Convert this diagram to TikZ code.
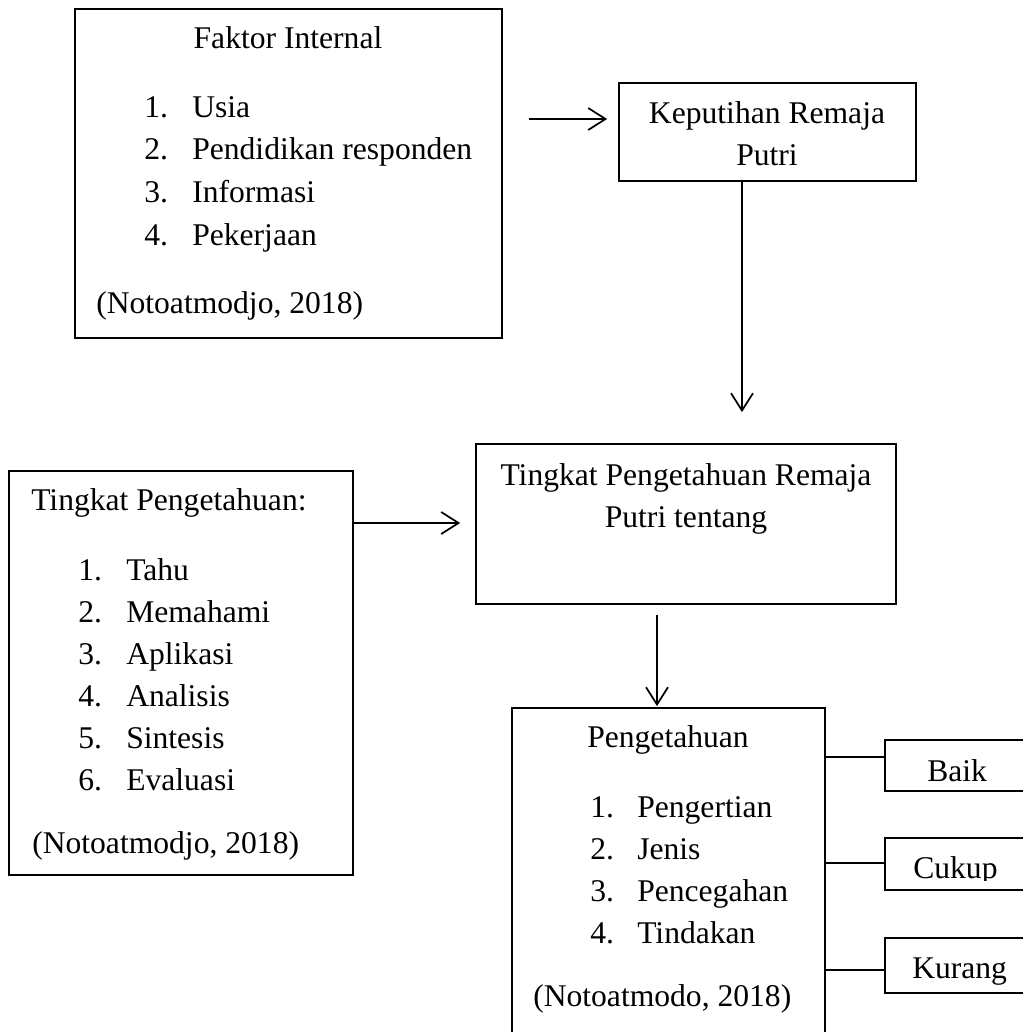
\documentclass[tikz,border=0pt]{standalone}
\usepackage{fontspec}
\setmainfont{Liberation Serif}
\usetikzlibrary{arrows.meta}
\begin{document}
\begin{tikzpicture}[x=0.75pt,y=-0.75pt,
  box/.style={draw, line width=1.3pt, rectangle, inner sep=0pt},
  txt/.style={inner sep=0pt, anchor=base west, font=\fontsize{23.7pt}{28pt}\selectfont},
  ctxt/.style={inner sep=0pt, anchor=base, font=\fontsize{23.7pt}{28pt}\selectfont},
  arr/.style={line width=1.3pt, -{Straight Barb[length=13pt,width=16.5pt,line width=1.3pt]}},
  conn/.style={line width=1.3pt}]
\useasboundingbox (0,0) rectangle (1023,1032);
\clip (0,0) rectangle (1023,1032);

% boxes
\node[box, minimum width=320.25pt, minimum height=246.75pt] (b1) at (288.5,173.5) {};
\node[box, minimum width=222.75pt, minimum height=73.5pt] (b2) at (767.5,132) {};
\node[box, minimum width=315pt, minimum height=120pt] (b3) at (686,524) {};
\node[box, minimum width=258pt, minimum height=303pt] (b4) at (181,673) {};
\node[box, minimum width=234.75pt, minimum height=264pt] (b5) at (668.5,884) {};
\node[box, minimum width=116.25pt, minimum height=38.25pt] (baik) at (962.5,765.5) {};
\node[box, minimum width=116.25pt, minimum height=39pt] (cukup) at (962.5,864) {};
\node[box, minimum width=116.25pt, minimum height=41.25pt] (kurang) at (962.5,965.5) {};

% box 1 text
\node[ctxt] (t1) at (288,48) {Faktor Internal};
\node[txt] (n11) at (144,117) {1.};  \node[txt] (i11) at (192,117) {Usia};
\node[txt] (n12) at (144,159) {2.};  \node[txt] (i12) at (192,159) {Pendidikan responden};
\node[txt] (n13) at (144,202) {3.};  \node[txt] (i13) at (192,202) {Informasi};
\node[txt] (n14) at (144,245) {4.};  \node[txt] (i14) at (192,245) {Pekerjaan};
\node[txt] (r1) at (96,313) {(Notoatmodjo, 2018)};

% box 2 text
\node[ctxt] (t2a) at (767,123) {Keputihan Remaja};
\node[ctxt] (t2b) at (767,165) {Putri};

% box 3 text
\node[ctxt] (t3a) at (686,485) {Tingkat Pengetahuan Remaja};
\node[ctxt] (t3b) at (686,527) {Putri tentang};

% box 4 text
\node[txt] (t4) at (31,510) {Tingkat Pengetahuan:};
\node[txt] (n41) at (78,580) {1.}; \node[txt] (i41) at (126,580) {Tahu};
\node[txt] (n42) at (78,622) {2.}; \node[txt] (i42) at (126,622) {Memahami};
\node[txt] (n43) at (78,664) {3.}; \node[txt] (i43) at (126,664) {Aplikasi};
\node[txt] (n44) at (78,706) {4.}; \node[txt] (i44) at (126,706) {Analisis};
\node[txt] (n45) at (78,748) {5.}; \node[txt] (i45) at (126,748) {Sintesis};
\node[txt] (n46) at (78,790) {6.}; \node[txt] (i46) at (126,790) {Evaluasi};
\node[txt] (r4) at (32,853) {(Notoatmodjo, 2018)};

% box 5 text
\node[ctxt] (t5) at (668,747) {Pengetahuan};
\node[txt] (n51) at (590,817) {1.}; \node[txt] (i51) at (637,817) {Pengertian};
\node[txt] (n52) at (590,859) {2.}; \node[txt] (i52) at (637,859) {Jenis};
\node[txt] (n53) at (590,901) {3.}; \node[txt] (i53) at (637,901) {Pencegahan};
\node[txt] (n54) at (590,943) {4.}; \node[txt] (i54) at (637,943) {Tindakan};
\node[txt] (r5) at (533,1006) {(Notoatmodo, 2018)};

% small box text
\node[txt] (tb) at (927,781) {Baik};
\begin{scope}
  \clip (885,838) rectangle (1023,880);
  \node[txt] (tc) at (913,878) {Cukup};
\end{scope}
\node[txt] (tk) at (912,978) {Kurang};

% connector helper coordinates
\coordinate (y1) at (0,119);
\coordinate (x2) at (742,0);
\coordinate (y3) at (0,523);
\coordinate (x4) at (657,0);
\coordinate (yb) at (0,757);
\coordinate (yc) at (0,863);
\coordinate (yk) at (0,970);

% arrows
\draw[arr, shorten <=19.5pt, shorten >=8.25pt] (b1.east |- y1) -- (b2.west |- y1);
\draw[arr, shorten >=23.25pt] (b2.south -| x2) -- (b3.north -| x2);
\draw[arr, shorten >=11.25pt] (b4.east |- y3) -- (b3.west |- y3);
\draw[arr, shorten <=7.5pt, shorten >=0.75pt] (b3.south -| x4) -- (b5.north -| x4);

% plain connectors
\draw[conn] (b5.east |- yb) -- (baik.west |- yb);
\draw[conn] (b5.east |- yc) -- (cukup.west |- yc);
\draw[conn] (b5.east |- yk) -- (kurang.west |- yk);
\end{tikzpicture}
\end{document}
